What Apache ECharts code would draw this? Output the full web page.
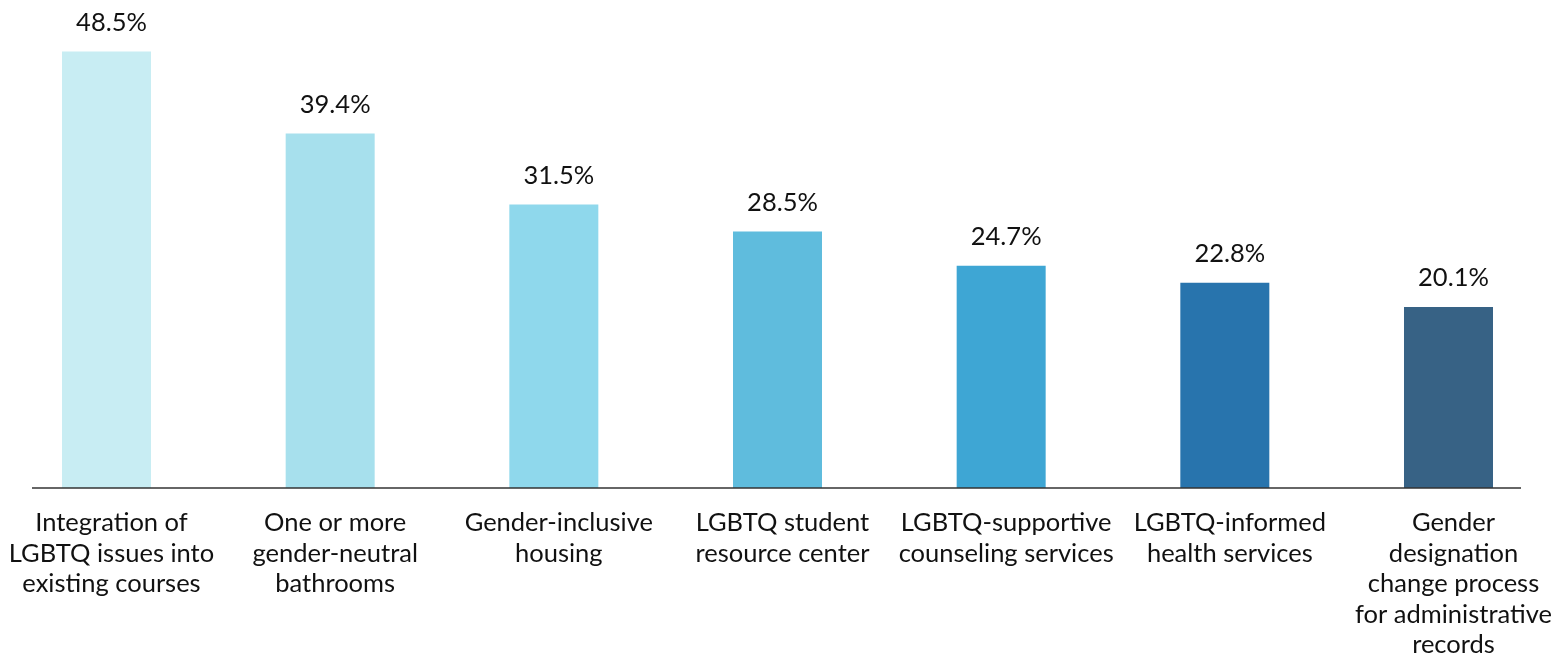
<!DOCTYPE html>
<html><head><meta charset="utf-8">
<script src="https://cdn.jsdelivr.net/npm/echarts@6/dist/echarts.min.js"></script>
<style>html,body{margin:0;padding:0;background:#fff}#c{width:1566px;height:658px}</style>
</head><body><div id="c"></div>
<script>
const categories = [
  "Integration of\nLGBTQ issues into\nexisting courses",
  "One or more\ngender-neutral\nbathrooms",
  "Gender-inclusive\nhousing",
  "LGBTQ student\nresource center",
  "LGBTQ-supportive\ncounseling services",
  "LGBTQ-informed\nhealth services",
  "Gender\ndesignation\nchange process\nfor administrative\nrecords"
];
const values = [48.5, 39.4, 31.5, 28.5, 24.7, 22.8, 20.1];
const barColors = ["#c8edf3", "#a7e0ed", "#8fd8ec", "#5fbcdd", "#3ea6d4", "#2874ad", "#376285"];

const chart = echarts.init(document.getElementById('c'), null, {renderer: 'canvas'});
chart.setOption({
  animation: false,
  backgroundColor: '#fff',
  textStyle: {fontFamily: 'Lato'},
  grid: {left: -5.33, right: 5.67, top: 38, bottom: 170, containLabel: false, outerBoundsMode: 'none'},
  xAxis: {
    type: 'category',
    data: categories,
    axisLine: {show: false},
    axisTick: {show: false},
    axisLabel: {
      interval: 0, color: '#111', fontFamily: 'Lato', fontSize: 25.5,
      lineHeight: 30.5, margin: 20, align: 'center', hideOverlap: false,
      padding: [0, 0, 0, 10]
    }
  },
  yAxis: {type: 'value', min: 0, max: 50, show: false, splitLine: {show: false}},
  graphic: [{
    type: 'line', z: 100,
    shape: {x1: 32, y1: 488, x2: 1521, y2: 488},
    style: {stroke: '#333', lineWidth: 1.5}
  }],
  series: [{
    type: 'bar',
    barWidth: 89,
    data: values.map((v, i) => ({value: v, itemStyle: {color: barColors[i]}})),
    label: {
      show: true, position: 'top', distance: 16, offset: [5, 0],
      formatter: p => p.value.toFixed(1) + '%',
      color: '#111', fontFamily: 'Lato', fontSize: 25.5
    }
  }]
});
</script></body></html>
